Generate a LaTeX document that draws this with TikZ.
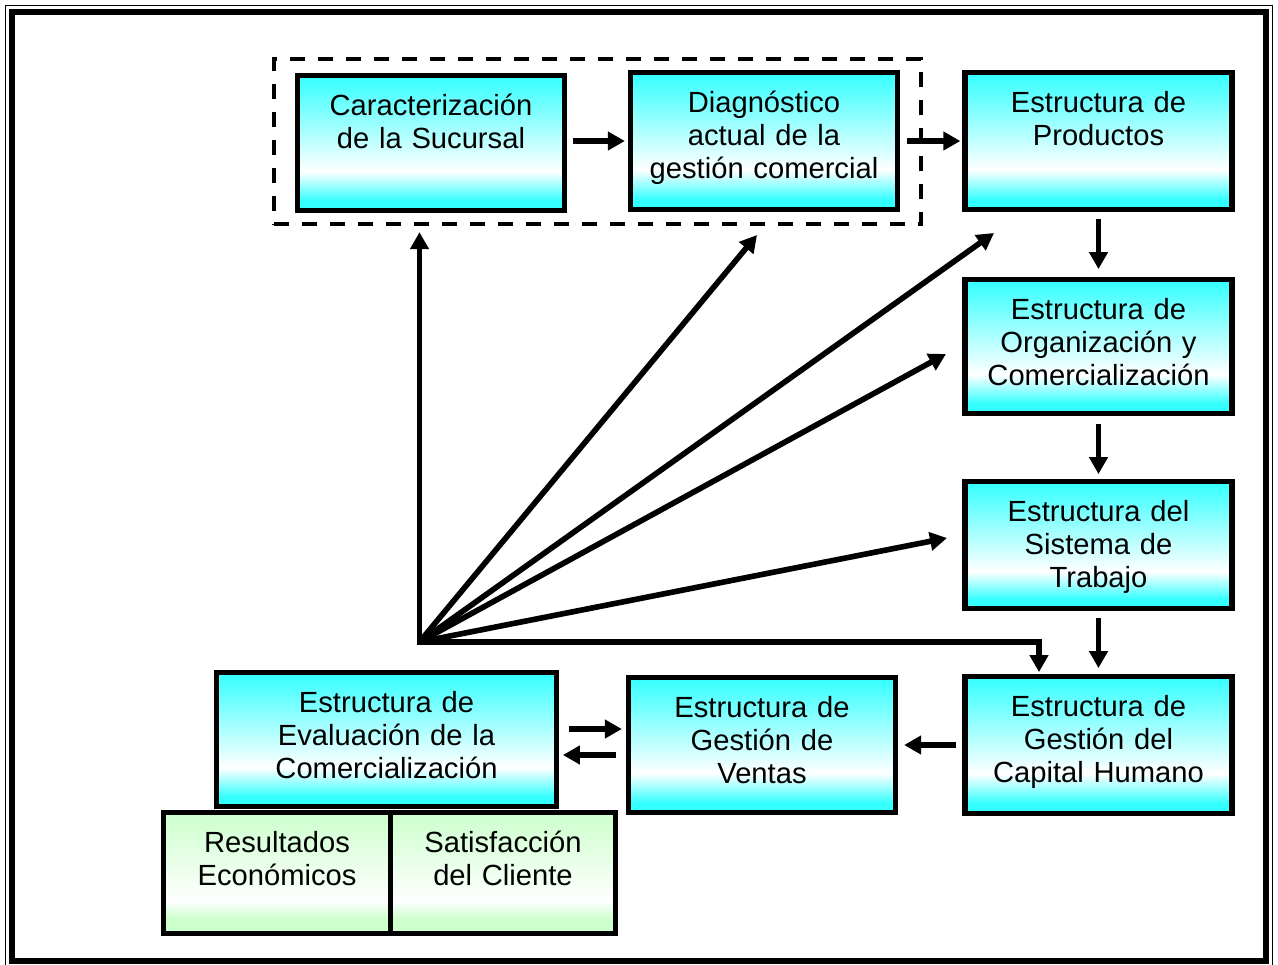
\documentclass[tikz,border=0pt]{standalone}
\usepackage{fontspec}
\setmainfont{Liberation Sans}
\usetikzlibrary{arrows.meta}
\usetikzlibrary{fit}
\usetikzlibrary{calc}

\definecolor{celeste}{RGB}{51,255,255}
\definecolor{verdeclaro}{RGB}{204,255,204}

\tikzset{
  punta/.tip={Triangle[length=0.34cm,width=0.36cm]},
  degradado/.style n args={3}{path picture={
      \coordinate (so) at (path picture bounding box.south west);
      \coordinate (ne) at (path picture bounding box.north east);
      \coordinate (pa) at ($(so)!#2!(so |- ne)$);
      \coordinate (pb) at ($(so)!#3!(so |- ne)$);
      \shade[top color=#1, bottom color=white] (ne) rectangle (pa);
      \shade[top color=white, bottom color=#1] (pa -| ne) rectangle (pb);
      \fill[#1] (pb -| ne) rectangle (so);
    }},
  caja/.style={draw, line width=3pt, align=center, inner sep=0pt, text height=0.79cm,
    font=\fontsize{16.6}{18.8}\selectfont},
  cajaazul/.style={caja, degradado={celeste}{0.29}{0.07}, text width=5.34cm},
  cajaverde/.style={caja, degradado={verdeclaro}{0.27}{0.12}, text depth=1.62cm},
  flecha/.style={line width=3.2pt, -punta, shorten <=0.14cm, shorten >=0.1cm},
}

\begin{document}
\begin{tikzpicture}
    \useasboundingbox (0,0) rectangle (25.56,-19.30);
    % page border
    \draw[line width=0.03cm] (0.11,-0.11) rectangle (25.45,-19.36);
    \draw[line width=0.12cm] (0.24,-0.24) rectangle (25.31,-19.21);

    \node[cajaazul, text depth=1.91cm] (car) at (8.62,-2.86) {Caracterización\\de la Sucursal};
    \node[cajaazul, text depth=1.94cm] (diag) at (15.28,-2.82) {Diagnóstico\\actual de la\\gestión comercial};
    \node[cajaazul, text depth=1.94cm] (prod) at (21.97,-2.82) {Estructura de\\Productos};
    \node[cajaazul, text depth=1.88cm] (org) at (21.97,-6.93) {Estructura de\\Organización y\\Comercialización};
    \node[cajaazul, text depth=1.74cm] (sis) at (21.97,-10.90) {Estructura del\\Sistema de\\Trabajo};
    \node[cajaazul, text depth=1.94cm] (cap) at (21.97,-14.90) {Estructura de\\Gestión del\\Capital Humano};
    \node[cajaazul, text depth=1.90cm] (ven) at (15.24,-14.90) {Estructura de\\Gestión de\\Ventas};
    \node[cajaverde, text width=4.54cm] (res) at (5.54,-17.46) {Resultados\\Económicos};
    \node[cajaverde, text width=4.50cm] (sat) at (10.06,-17.46) {Satisfacción\\del Cliente};
    \node[cajaazul, text width=6.79cm, text depth=1.88cm] (eva) at (7.73,-14.79) {Estructura de\\Evaluación de la\\Comercialización};

    % dashed group
    \node[draw, line width=0.08cm, dash pattern=on 0.3cm off 0.26cm, fit=(car)(diag),
      inner xsep=0.42cm, inner ysep=0.22cm] (grupo) {};

    % chain of arrows
    \draw[flecha, shorten <=0.12cm, shorten >=0.06cm] (diag.west -| car.east) -- (diag.west);
    \draw[flecha, shorten >=0.04cm] (diag.east) -- (diag.east -| prod.west);
    \draw[flecha, shorten >=0.16cm] (prod.south) -- (org.north);
    \draw[flecha, shorten <=0.16cm] (org.south) -- (sis.north);
    \draw[flecha, shorten >=0.12cm] (sis.south) -- (cap.north);
    \draw[flecha, shorten <=0.12cm, shorten >=0.12cm] (cap.west) -- (ven.east);
    \draw[flecha, shorten <=0.2cm, shorten >=0.08cm] ([yshift=0.21cm]eva.east) -- ([yshift=0.21cm]eva.east -| ven.west);
    \draw[flecha, shorten <=0.2cm, shorten >=0.08cm] ([yshift=-0.31cm]eva.east -| ven.west) -- ([yshift=-0.31cm]eva.east);

    % arrows from the common point
    \coordinate (hub) at (8.39,-12.84);
    \coordinate (d1) at (15.14,-4.70);
    \coordinate (d2) at (19.88,-4.66);
    \coordinate (d3) at (18.92,-7.08);
    \coordinate (d4) at (18.94,-10.76);
    \draw[line width=3.2pt, punta-punta, shorten <=0.12cm, shorten >=0.04cm]
      (hub |- grupo.south) -- (hub) -| ([xshift=-1.19cm]cap.north);
    \foreach \d in {d1,d2,d3,d4}
      \draw[flecha, shorten <=0pt, shorten >=0pt] (hub) -- (\d);
  \end{tikzpicture}
\end{document}
